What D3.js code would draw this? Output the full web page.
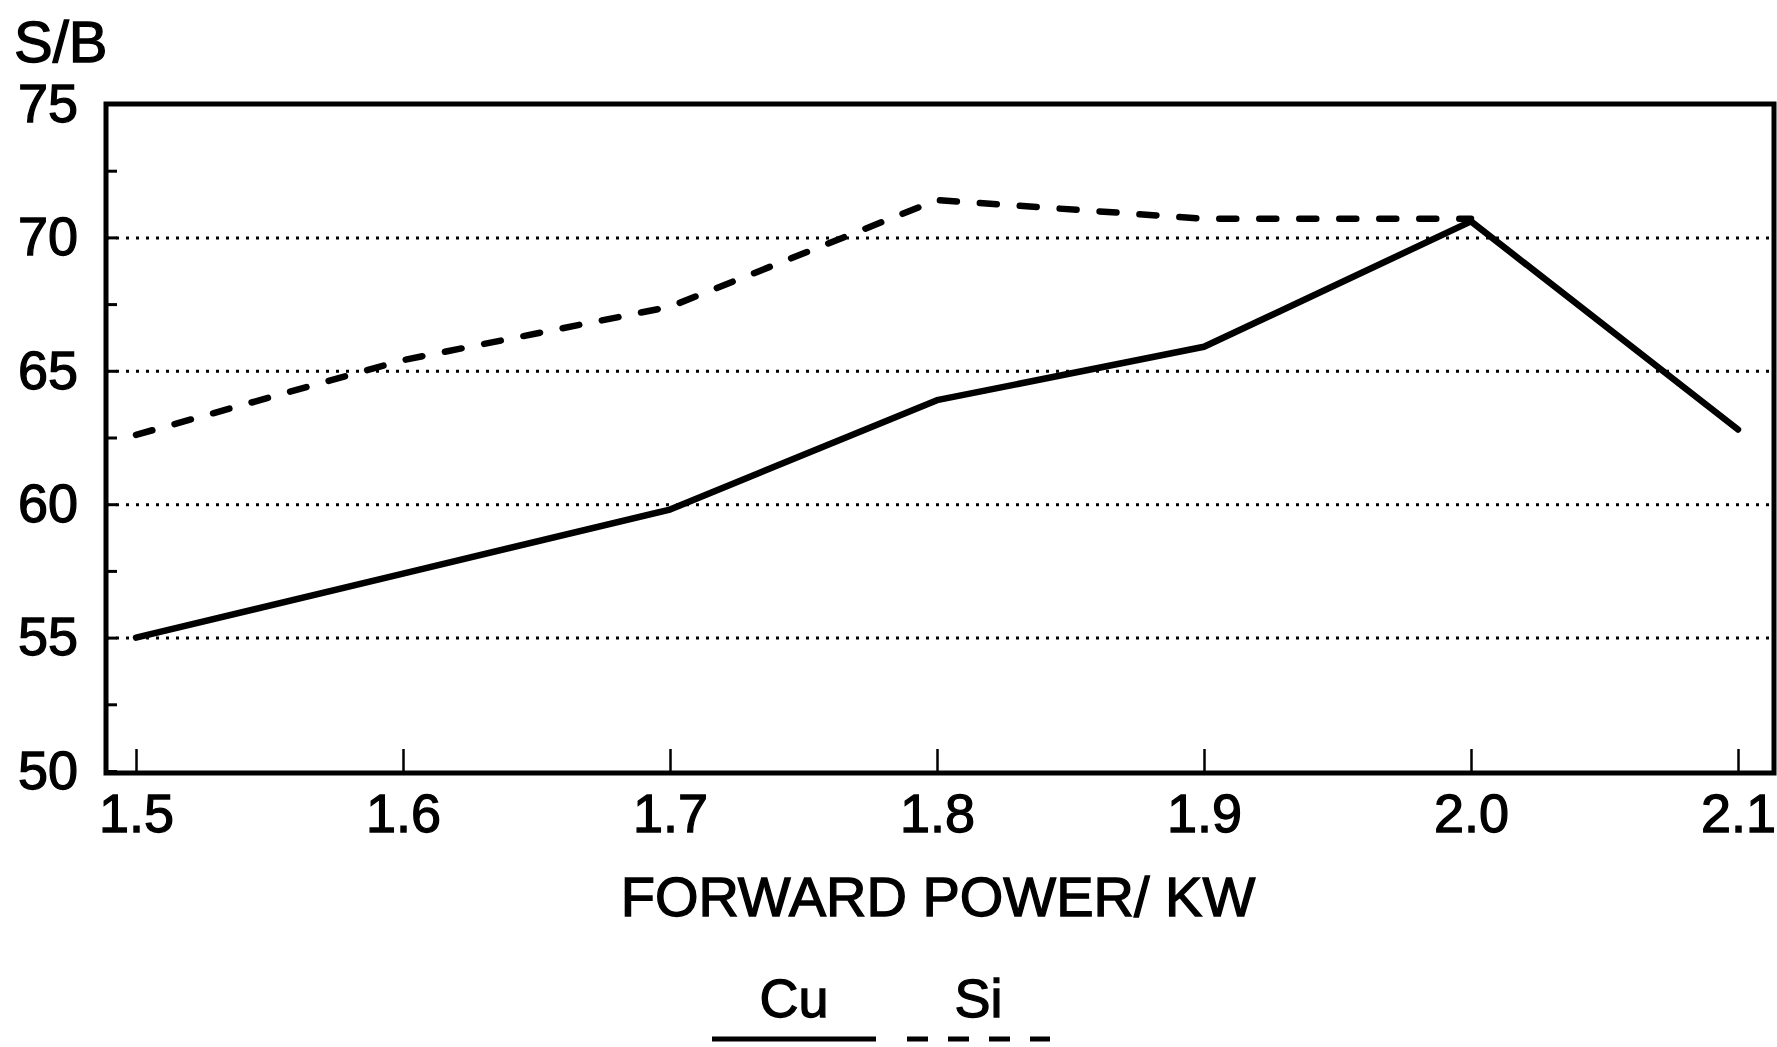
<!DOCTYPE html>
<html>
<head>
<meta charset="utf-8">
<script src="https://cdn.jsdelivr.net/npm/d3@7"></script>
<style>
  body { margin: 0; background: #fff; }
  svg { display: block; font-family: "Liberation Sans", Arial, sans-serif; }
  .lbl { fill: #000; stroke: #000; stroke-width: 1.3px; }
</style>
</head>
<body>
<svg id="chart" width="1777" height="1047"></svg>
<script>
// forward power (kW)
var power = [1.5, 1.6, 1.7, 1.8, 1.9, 2.0, 2.1];
// S/B values
var cuValues = [55.0, 57.4, 59.8, 63.9, 65.9, 70.6, 62.8];
var siValues = [62.6, 65.4, 67.4, 71.4, 70.7, 70.7];
var yLabelTicks = [50, 55, 60, 65, 70, 75];
var yMinorTicks = [52.5, 57.5, 62.5, 67.5, 72.5];
var gridTicks = [55, 60, 65, 70];
var seriesNames = ["Cu", "Si"];

var svg = d3.select("#chart");

// frame box
var boxLeft = 106, boxTop = 104, boxRight = 1774, boxBottom = 773;

var x = d3.scaleLinear().domain([1.5, 2.1]).range([136, 1738]);
var y = d3.scaleLinear().domain([50, 75]).range([771, 104]);

// dotted grid lines
svg.append("g")
    .attr("transform", "translate(" + boxLeft + ",0)")
    .call(d3.axisLeft(y).tickValues(gridTicks).tickSize(-(boxRight - boxLeft)).tickFormat(""))
    .call(g => g.select(".domain").remove())
    .call(g => g.selectAll("line")
        .attr("stroke", "#000")
        .attr("stroke-width", 3)
        .attr("stroke-dasharray", "3,7")
        .attr("stroke-dashoffset", -20));

// y ticks + labels
svg.append("g")
    .attr("transform", "translate(" + boxLeft + ",0)")
    .call(d3.axisLeft(y).tickValues(yLabelTicks).tickSize(-11).tickPadding(28))
    .call(g => g.select(".domain").remove())
    .call(g => g.selectAll("line").attr("stroke", "#000").attr("stroke-width", 3))
    .call(g => g.selectAll("text")
        .attr("class", "lbl")
        .attr("font-size", 54)
        .attr("font-family", "Liberation Sans, Arial, sans-serif"));

svg.append("g")
    .attr("transform", "translate(" + boxLeft + ",0)")
    .call(d3.axisLeft(y).tickValues(yMinorTicks).tickSize(-11).tickFormat(""))
    .call(g => g.select(".domain").remove())
    .call(g => g.selectAll("line").attr("stroke", "#000").attr("stroke-width", 3));

// x ticks + labels
svg.append("g")
    .attr("transform", "translate(0," + boxBottom + ")")
    .call(d3.axisBottom(x).tickValues(power).tickSize(-24).tickPadding(21).tickFormat(d3.format(".1f")))
    .call(g => g.select(".domain").remove())
    .call(g => g.selectAll("line").attr("stroke", "#000").attr("stroke-width", 2.5))
    .call(g => g.selectAll("text")
        .attr("class", "lbl")
        .attr("font-size", 54)
        .attr("font-family", "Liberation Sans, Arial, sans-serif"));

// frame
svg.append("rect")
    .attr("x", boxLeft)
    .attr("y", boxTop)
    .attr("width", boxRight - boxLeft)
    .attr("height", boxBottom - boxTop)
    .attr("fill", "none")
    .attr("stroke", "#000")
    .attr("stroke-width", 5);

var line = d3.line()
    .x(d => x(d[0]))
    .y(d => y(d[1]));

var cuData = power.map((p, i) => [p, cuValues[i]]);
var siData = siValues.map((v, i) => [power[i], v]);

svg.append("path")
    .datum(siData)
    .attr("d", line)
    .attr("fill", "none")
    .attr("stroke", "#000")
    .attr("stroke-width", 6.5)
    .attr("stroke-linecap", "round")
    .attr("stroke-dasharray", "17,23");

svg.append("path")
    .datum(cuData)
    .attr("d", line)
    .attr("fill", "none")
    .attr("stroke", "#000")
    .attr("stroke-width", 6.5)
    .attr("stroke-linejoin", "round")
    .attr("stroke-linecap", "round");

// axis titles
svg.append("text")
    .attr("class", "lbl")
    .attr("x", 14)
    .attr("y", 62)
    .attr("font-size", 58)
    .text("S/B");

svg.append("text")
    .attr("class", "lbl")
    .attr("x", 938)
    .attr("y", 916)
    .attr("text-anchor", "middle")
    .attr("font-size", 56)
    .text("FORWARD POWER/ KW");

// legend
var legend = svg.append("g");
var legendX = [[712, 876], [907, 1050]];
seriesNames.forEach(function(name, i) {
    legend.append("text")
        .attr("class", "lbl")
        .attr("x", (legendX[i][0] + legendX[i][1]) / 2)
        .attr("y", 1017)
        .attr("text-anchor", "middle")
        .attr("font-size", 54)
        .text(name);
    legend.append("line")
        .attr("x1", legendX[i][0])
        .attr("x2", legendX[i][1])
        .attr("y1", 1039)
        .attr("y2", 1039)
        .attr("stroke", "#000")
        .attr("stroke-width", 5)
        .attr("stroke-dasharray", i == 1 ? "21,20" : null);
});
</script>
</body>
</html>
